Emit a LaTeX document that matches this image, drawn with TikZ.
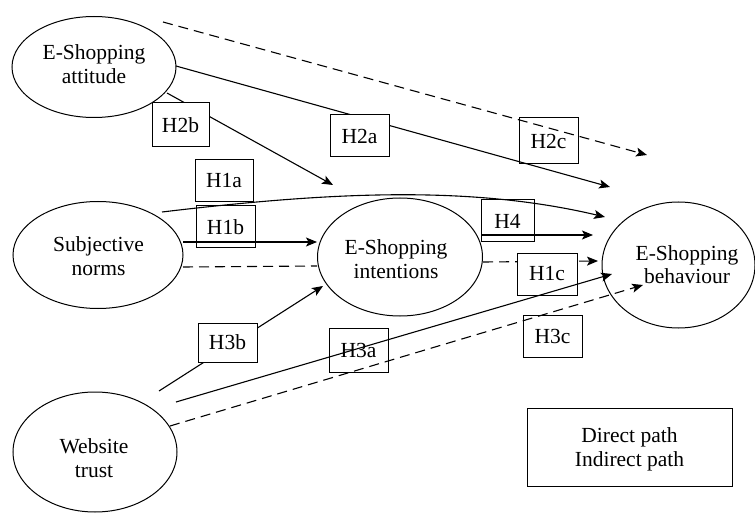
\documentclass[tikz,border=0pt]{standalone}
\usepackage{fontspec}
\setmainfont{Liberation Serif}
\usetikzlibrary{arrows.meta,shapes.geometric}
\begin{document}
\begin{tikzpicture}[x=1pt,y=-1pt,
  every node/.style={font=\fontsize{21.5}{23.5}\selectfont},
  ell/.style={draw, ellipse, inner sep=0pt, line width=1pt},
  txt/.style={align=center, inner sep=0pt},
  hbox/.style={draw, rectangle, inner sep=0pt, line width=1pt},
  wbox/.style={hbox, fill=white},
  conn/.style={line width=1.1pt},
  arr/.style={conn, -{Stealth[length=11pt,width=9pt,inset=2.5pt]}},
  dline/.style={dash pattern=on 10pt off 6pt}
]
\useasboundingbox (0,0) rectangle (755,513);

% ellipses
\node[ell, minimum width=164pt, minimum height=101pt] (att) at (94,67) {};
\node[ell, minimum width=170pt, minimum height=107pt] (sn) at (98,255) {};
\node[ell, minimum width=165pt, minimum height=118pt] (int) at (400,257) {};
\node[ell, minimum width=153pt, minimum height=126pt] (beh) at (678.5,265) {};
\node[ell, minimum width=164pt, minimum height=120pt] (tru) at (95,452) {};

\node[txt] (attT) at (94,64.2) {E-Shopping\\attitude};
\node[txt] (snT) at (98.5,256.2) {Subjective\\norms};
\node[txt] (intT) at (396,258.9) {E-Shopping\\intentions};
\node[txt] (behT) at (687,264.4) {E-Shopping\\behaviour};
\node[txt] (truT) at (94,457.9) {Website\\trust};

% connector end points
\coordinate (s2c) at (163,22);   \coordinate (e2c) at (647,155);
\coordinate (s2a) at (176,66);   \coordinate (e2a) at (610,187);
\coordinate (s2b) at (167,93);   \coordinate (e2b) at (333,185);
\coordinate (s1a) at (162,212);  \coordinate (e1a) at (605,217);
\coordinate (s1b) at (183,242);  \coordinate (e1b) at (317,242);
\coordinate (sd1) at (183,267);  \coordinate (ed1) at (317,266);
\coordinate (s1c) at (483,262);  \coordinate (e1c) at (598,261);
\coordinate (s4) at (482,235);   \coordinate (e4) at (593,235);
\coordinate (s3b) at (159,391);  \coordinate (e3b) at (323,286);
\coordinate (s3a) at (176,402);  \coordinate (e3a) at (612,274);
\coordinate (s3c) at (170,426);  \coordinate (e3c) at (643,285);

% connectors
\draw[arr, dline] (s2c) -- (e2c);
\draw[arr] (s2a) -- (e2a);
\draw[arr] (s2b) -- (e2b);
\draw[arr] (s1a) .. controls (330,192) and (470,185) .. (e1a);
\draw[arr] (s1b) -- (e1b);
\draw[conn, dline] (sd1) -- (ed1);
\draw[arr, dline] (s1c) -- (e1c);
\draw[arr] (s4) -- (e4);
\draw[arr] (s3b) -- (e3b);
\draw[arr, dline] (s3c) -- (e3c);

% hypothesis labels
\node[wbox, minimum width=57pt, minimum height=44pt] (h2b) at (180.5,125) {H2b};
\node[wbox, minimum width=59pt, minimum height=42pt] (h2a) at (359.5,136) {H2a};
\node[hbox, minimum width=59pt, minimum height=46pt] (h2c) at (548.5,141) {H2c};
\node[hbox, minimum width=58pt, minimum height=42pt] (h1a) at (224,181) {H1a};
\node[hbox, minimum width=59pt, minimum height=42pt] (h1b) at (225.5,227) {H1b};
\node[hbox, minimum width=53pt, minimum height=42pt] (h4) at (507.5,221) {H4};
\node[wbox, minimum width=60pt, minimum height=42pt] (h1c) at (547,274) {H1c};
\node[wbox, minimum width=59pt, minimum height=39pt] (h3b) at (227.5,342.5) {H3b};
\node[hbox, minimum width=59pt, minimum height=44pt] (h3a) at (358.5,350) {H3a};
\node[hbox, minimum width=59pt, minimum height=42pt] (h3c) at (552.5,336) {H3c};

\draw[arr] (s3a) -- (e3a);

% legend
\node[hbox, minimum width=205pt, minimum height=78pt] (leg) at (629.5,447) {};
\node[txt] (legT) at (629.5,449.3) {Direct path\\Indirect path};
\end{tikzpicture}
\end{document}
